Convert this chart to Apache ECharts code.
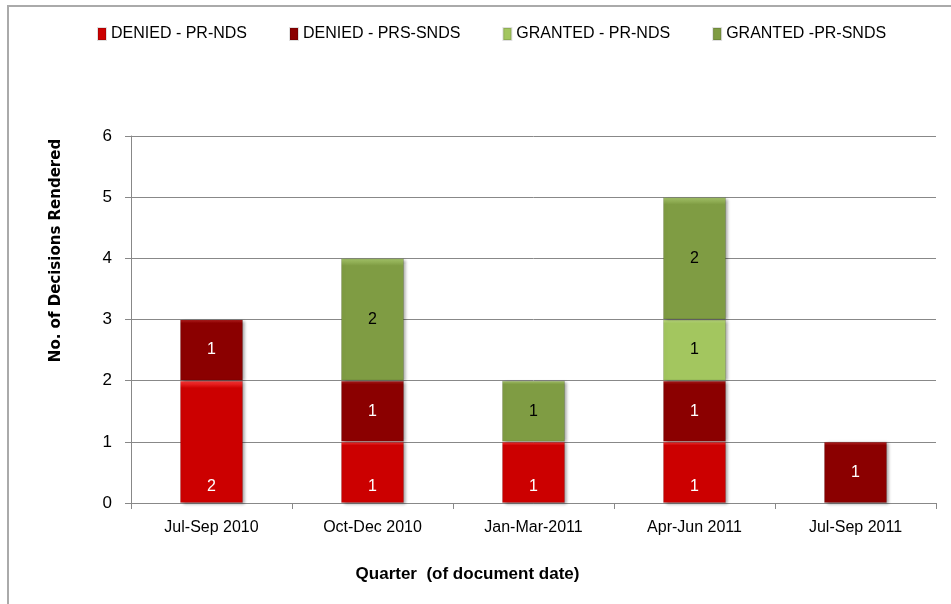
<!DOCTYPE html>
<html>
<head>
<meta charset="utf-8">
<script src="https://cdn.jsdelivr.net/npm/echarts@6/dist/echarts.min.js"></script>
<style>
html,body{margin:0;padding:0;background:#fff;}
#main{width:951px;height:604px;}
</style>
</head>
<body>
<div id="main"></div>
<script>
// 季度
var quarters = ['Jul-Sep 2010', 'Oct-Dec 2010', 'Jan-Mar-2011', 'Apr-Jun 2011', 'Jul-Sep 2011'];
// 各系列数值
var deniedPrNds = [2, 1, 1, 1, null];
var deniedPrsSnds = [1, 1, null, 1, 1];
var grantedPrNds = [null, null, null, 1, null];
var grantedPrSnds = [null, 2, 1, 2, null];
var seriesNames = ['DENIED - PR-NDS', 'DENIED - PRS-SNDS', 'GRANTED - PR-NDS', 'GRANTED -PR-SNDS'];
var yTicks = [0, 1, 2, 3, 4, 5, 6];

var font = '"Liberation Sans Narrow", "Liberation Sans", sans-serif';

function barStyle(c1, c2) {
	return {
		color: {
			type: 'linear', x: 0, y: 0, x2: 0, y2: 1,
			colorStops: [
				{offset: 0, color: c2},
				{offset: 0.06, color: c1},
				{offset: 1, color: c1}
			]
		},
		borderColor: 'rgba(0,0,0,0.12)',
		borderWidth: 1,
		shadowColor: 'rgba(0,0,0,0.35)',
		shadowBlur: 3,
		shadowOffsetX: 2,
		shadowOffsetY: 1
	};
}

function mkSeries(name, data, c1, c2, labelColor, pos) {
	return {
		name: name,
		type: 'bar',
		stack: 'total',
		data: data,
		barWidth: 63,
		itemStyle: barStyle(c1, c2),
		label: {
			show: true,
			position: pos,
			distance: 8,
			color: labelColor,
			fontFamily: font,
			fontSize: 16
		}
	};
}

var myChart = echarts.init(document.getElementById('main'));
var option = {
	animation: false,
	backgroundColor: '#fff',
	graphic: [{
		type: 'polyline',
		shape: {points: [[8, 604], [8, 6], [951, 6]]},
		style: {stroke: '#aaa', lineWidth: 2, fill: null}
	}],
	legend: {
		top: 21,
		left: 92,
		icon: 'rect',
		itemWidth: 8,
		itemHeight: 12,
		itemGap: 42,
		textStyle: {fontFamily: font, fontSize: 16, color: '#000'},
		data: seriesNames
	},
	grid: {left: 131, right: 15, top: 136, bottom: 101},
	xAxis: {
		type: 'category',
		data: quarters,
		name: 'Quarter  (of document date)',
		nameLocation: 'middle',
		nameGap: 63,
		nameTextStyle: {fontFamily: font, fontSize: 17, fontWeight: 'bold', color: '#000', padding: [0, 132, 0, 0]},
		axisLine: {lineStyle: {color: '#888'}},
		axisTick: {show: true, length: 6, lineStyle: {color: '#888'}},
		axisLabel: {fontFamily: font, fontSize: 16, color: '#000', margin: 17}
	},
	yAxis: {
		type: 'value',
		min: yTicks[0],
		max: yTicks[yTicks.length - 1],
		interval: 1,
		name: 'No. of Decisions Rendered',
		nameLocation: 'middle',
		nameGap: 67,
		nameTextStyle: {fontFamily: '"DejaVu Sans", sans-serif', fontSize: 15, fontWeight: 'bold', color: '#000', padding: [0, 0, 0, 138]},
		axisLine: {show: true, lineStyle: {color: '#888'}},
		axisTick: {show: true, length: 6, lineStyle: {color: '#888'}},
		splitLine: {lineStyle: {color: '#888'}},
		axisLabel: {fontFamily: font, fontSize: 17, color: '#000', margin: 19}
	},
	series: [
		mkSeries(seriesNames[0], deniedPrNds, '#cc0000', '#ff3b3b', '#fff', 'insideBottom'),
		mkSeries(seriesNames[1], deniedPrsSnds, '#8b0000', '#b52424', '#fff', 'inside'),
		mkSeries(seriesNames[2], grantedPrNds, '#a3c65f', '#c4e08a', '#000', 'inside'),
		mkSeries(seriesNames[3], grantedPrSnds, '#7f9c43', '#a5c46a', '#000', 'inside')
	]
};
myChart.setOption(option);
</script>
</body>
</html>
